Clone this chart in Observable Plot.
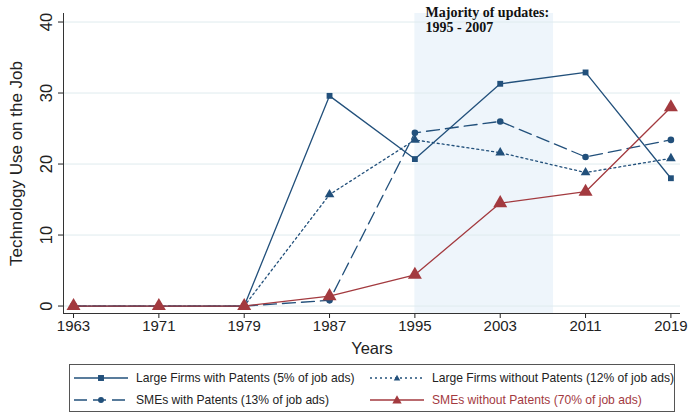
<!DOCTYPE html>
<html>
<head>
<meta charset="utf-8">
<script src="https://cdn.jsdelivr.net/npm/d3@7"></script>
<script src="https://cdn.jsdelivr.net/npm/@observablehq/plot@0.6"></script>
<style>
  html, body { margin: 0; padding: 0; background: #fff; }
  #wrap { position: relative; width: 688px; height: 415px; font-family: "Liberation Sans", Arial, sans-serif; }
  #legend { position: absolute; left: 69px; top: 364px; width: 606px; height: 48px; border: 1px solid #555; box-sizing: border-box; }
  .item { position: absolute; display: flex; align-items: center; font-size: 12.1px; color: #222; white-space: nowrap; }
  .item svg { margin-right: 7px; }
</style>
</head>
<body>
<div id="wrap">
  <div id="chart"></div>
  <div id="legend"></div>
</div>
<script>
const years = [1963, 1971, 1979, 1987, 1995, 2003, 2011, 2019];
const largeWithPatents = [0, 0, 0, 29.6, 20.7, 31.3, 32.9, 18.0];
const largeWithoutPatents = [0, 0, 0, 15.7, 23.4, 21.6, 18.8, 20.8];
const smeWithPatents = [0, 0, 0, 0.8, 24.4, 26.0, 21.0, 23.4];
const smeWithoutPatents = [0, 0, 0, 1.4, 4.4, 14.5, 16.1, 28.0];
const seriesNames = [
  "Large Firms with Patents (5% of job ads)",
  "Large Firms without Patents (12% of job ads)",
  "SMEs with Patents (13% of job ads)",
  "SMEs without Patents (70% of job ads)"
];
const yTicks = [0, 10, 20, 30, 40];
const updatePeriod = [1995, 2008];
const annotation = "Majority of updates:\n1995 - 2007";

const blue = "#22507b", red = "#a33a3f";
const styles = [
  {stroke: blue, dash: null, symbol: "square", r: 3.3},
  {stroke: blue, dash: "2,3", symbol: "triangle", r: 3.6},
  {stroke: blue, dash: "13,6", symbol: "circle", r: 3.3},
  {stroke: red, dash: null, symbol: "triangle", r: 5.2}
];
const seriesValues = [largeWithPatents, largeWithoutPatents, smeWithPatents, smeWithoutPatents];
const rows = seriesValues.map((vals, i) => years.map((yr, j) => ({series: seriesNames[i], year: yr, value: vals[j]})));

const xDom = [1962.06, 2019.9], yDom = [-1.05, 41.2];
const marks = [
  Plot.rect([updatePeriod], {x1: d => d[0], x2: d => d[1], fill: "#eef5fb"}),
  Plot.gridY(yTicks, {stroke: "#dfebee", strokeOpacity: 1}),
  Plot.axisY({ticks: yTicks, tickRotate: -90, tickSize: 5, tickPadding: 7, fontSize: 16.5, label: null}),
  Plot.axisY({ticks: [], label: "Technology Use on the Job", labelAnchor: "center", labelOffset: 54, labelArrow: "none", fontSize: 17}),
  Plot.axisX({ticks: years, tickFormat: "d", tickSize: 5, tickPadding: 2, fontSize: 15, label: null}),
  Plot.axisX({ticks: [], label: "Years", labelAnchor: "center", labelOffset: 40, labelArrow: "none", fontSize: 16.5}),
  Plot.ruleX([xDom[0]], {stroke: "#333"}),
  Plot.ruleY([yDom[0]], {stroke: "#333"})
];
rows.forEach((data, i) => {
  const s = styles[i];
  marks.push(Plot.line(data, {x: "year", y: "value", stroke: s.stroke, strokeWidth: 1.3, strokeDasharray: s.dash}));
  marks.push(Plot.dot(data, {x: "year", y: "value", symbol: s.symbol, r: s.r, fill: s.stroke, stroke: "none"}));
});
marks.push(Plot.text([annotation], {x: 1996.0, frameAnchor: "top", dy: -7, lineAnchor: "top", textAnchor: "start",
  fontFamily: "Liberation Serif", fontWeight: "bold", fontSize: 14, lineHeight: 1.05, fill: "#111"}));

const chart = Plot.plot({
  width: 688, height: 358,
  marginLeft: 63, marginRight: 8, marginTop: 13, marginBottom: 45,
  x: {domain: xDom},
  y: {domain: yDom},
  style: {fontFamily: "Liberation Sans, Arial, sans-serif", color: "#222", fontSize: "14px", overflow: "visible"},
  marks
});
document.getElementById("chart").appendChild(chart);

// legend
const legend = document.getElementById("legend");
const pos = [[3, 6], [299, 6], [3, 28], [299, 28]];
const shapes = {
  square: (r) => `<rect x="${28 - r}" y="${6 - r}" width="${2 * r}" height="${2 * r}"/>`,
  circle: (r) => `<circle cx="28" cy="6" r="${r}"/>`,
  triangle: (r) => `<polygon points="28,${6 - r} ${28 + r},${6 + r * 0.75} ${28 - r},${6 + r * 0.75}"/>`
};
seriesNames.forEach((name, i) => {
  const s = styles[i];
  const el = document.createElement("div");
  el.className = "item";
  el.style.left = pos[i][0] + "px";
  el.style.top = pos[i][1] + "px";
  if (i === 3) el.style.color = red;
  el.innerHTML = `<svg width="56" height="12"><line x1="1" x2="55" y1="6" y2="6" stroke="${s.stroke}" stroke-width="1.3" ${s.dash ? `stroke-dasharray="${s.dash}"` : ""}/><g fill="${s.stroke}">${shapes[s.symbol](s.r * 0.9)}</g></svg><span>${name}</span>`;
  legend.appendChild(el);
});
</script>
</body>
</html>
